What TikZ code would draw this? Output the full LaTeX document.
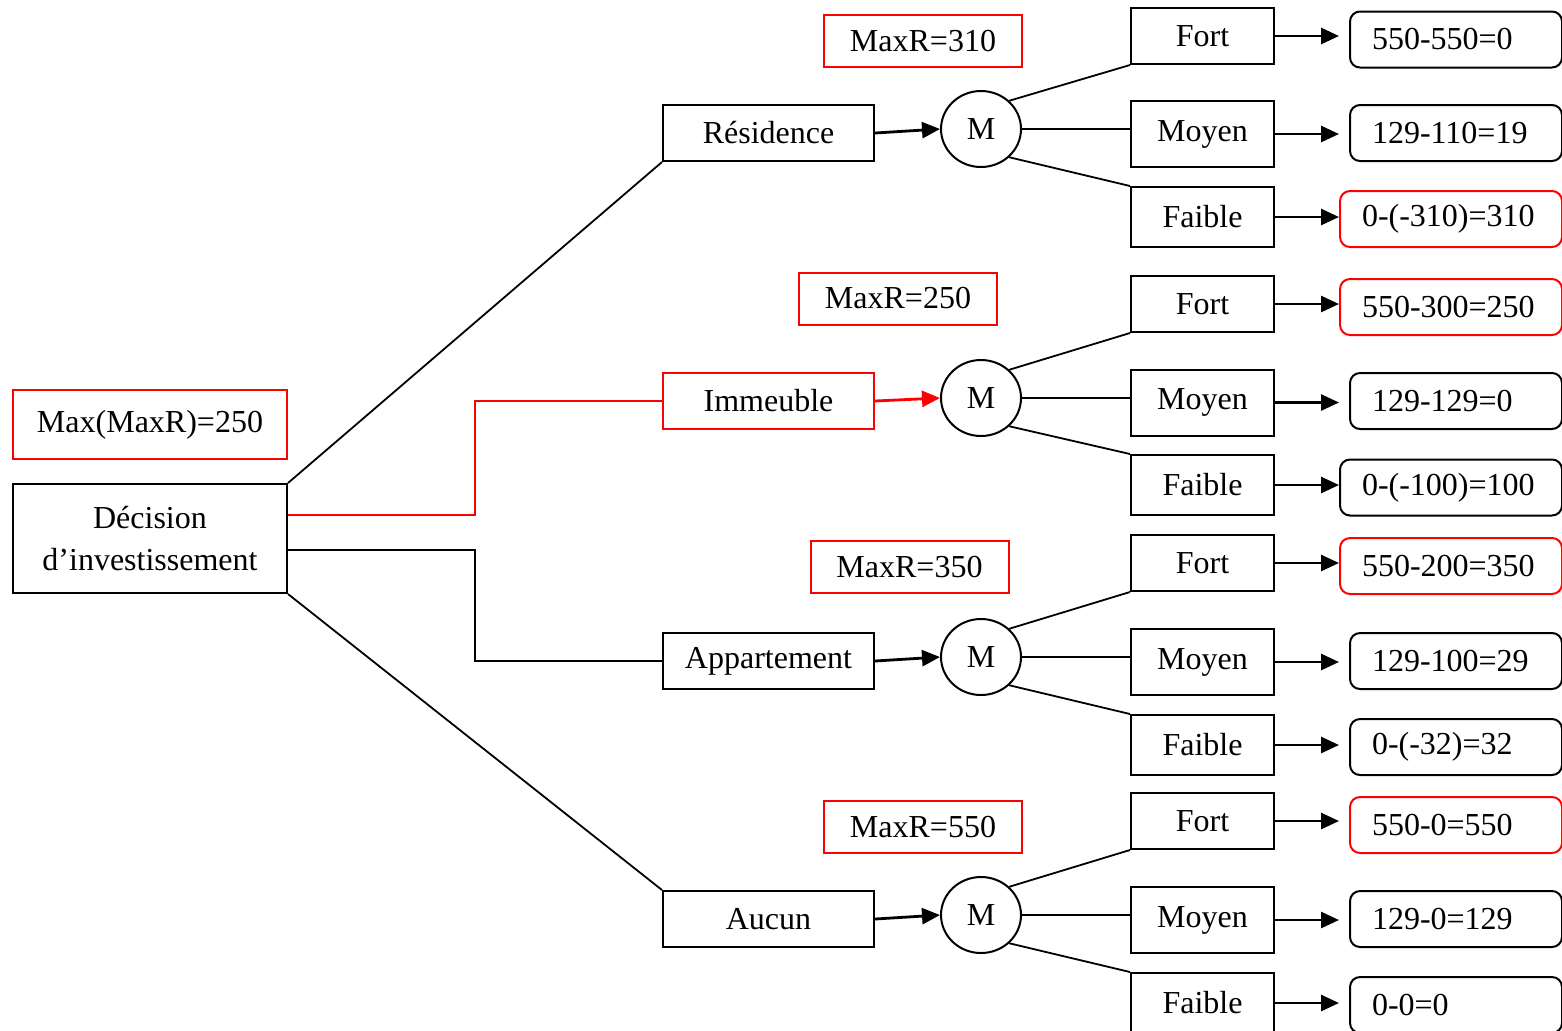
\documentclass[tikz,border=0pt]{standalone}
\usepackage{fontspec}
\setmainfont{Liberation Serif}
\usetikzlibrary{shapes.geometric,arrows.meta}

\tikzset{
    box/.style={draw, line width=1pt, inner sep=0pt, minimum width=71.5pt},
    scelta/.style={draw, line width=1pt, inner sep=0pt, minimum width=105.5pt, minimum height=28pt},
    maxr/.style={draw=red, line width=1pt, inner sep=0pt, minimum width=99pt, minimum height=26pt},
    nodo/.style={draw, ellipse, line width=1pt, inner sep=0pt, minimum width=40pt, minimum height=38pt},
    ris/.style={draw=#1, rounded corners=5pt, line width=1pt, anchor=west, minimum height=28pt, inner xsep=11pt, align=left},
    arr/.style={-{Triangle[length=9pt,width=8pt]}, line width=1.4pt},
    ramo/.style={line width=0.9pt}
}

\begin{document}
\begin{tikzpicture}[x=0.5pt, y=-0.5pt, font=\fontsize{16}{21}\selectfont]
    \clip (0,0) rectangle (1562,1030);

    % Radice della decisione
    \node[draw, line width=1pt, inner sep=0pt, minimum width=137pt, minimum height=54.5pt, align=center] (dec) at (150,538.5) {Décision\\d’investissement};
    \node[maxr, minimum width=137pt, minimum height=34.5pt] (maxmax) at (150,424.5) {Max(MaxR)=250};
    \coordinate (split) at (475,0);

    % Le quattro scelte
    \node[scelta] (resid) at (768.5,133) {Résidence};
    \node[scelta, draw=red] (immeu) at (768.5,401) {Immeuble};
    \node[scelta] (appar) at (768.5,661) {Appartement};
    \node[scelta] (aucun) at (768.5,919) {Aucun};

    % Rami dalla radice
    \draw[ramo] (dec.north east) -- (resid.south west);
    \draw[ramo, red] ([yshift=11.75pt]dec.east) -- ([yshift=11.75pt]dec.east -| split) |- (immeu.west);
    \draw[ramo] ([yshift=-5.75pt]dec.east) -- ([yshift=-5.75pt]dec.east -| split) |- (appar.west);
    \draw[ramo] (dec.south east) -- (aucun.north west);

    % Nodi M
    \node[nodo] (m1) at (981,129) {M};
    \node[nodo] (m2) at (981,398) {M};
    \node[nodo] (m3) at (981,657) {M};
    \node[nodo] (m4) at (981,915) {M};

    \draw[arr] (resid.east) -- (m1.west);
    \draw[arr, red] (immeu.east) -- (m2.west);
    \draw[arr] (appar.east) -- (m3.west);
    \draw[arr] (aucun.east) -- (m4.west);

    % Riquadri MaxR
    \node[maxr] (mr1) at (923,41) {MaxR=310};
    \node[maxr] (mr2) at (898,298.5) {MaxR=250};
    \node[maxr] (mr3) at (909.5,567) {MaxR=350};
    \node[maxr] (mr4) at (923,827) {MaxR=550};

    % Gruppo 1: Résidence
    \node[box, minimum height=28pt] (f1) at (1202.5,36) {Fort};
    \node[box, minimum height=33pt] (o1) at (1202.5,134) {Moyen};
    \node[box, minimum height=30pt] (w1) at (1202.5,217) {Faible};
    \draw[ramo] (m1.45) -- (f1.south west);
    \draw[ramo] (m1.east) -- (m1.east -| o1.west);
    \draw[ramo] (m1.-45) -- (w1.north west);
    \node[ris=black, text width=84pt] (rf1) at (1349,39.5) {550-550=0};
    \node[ris=black, text width=84pt] (ro1) at (1349,133) {129-110=19};
    \node[ris=red, text width=89pt] (rw1) at (1339,219) {0-(-310)=310};
    \draw[arr, shorten >=5pt] (f1.east) -- (f1.east -| rf1.west);
    \draw[arr, shorten >=5pt] (o1.east) -- (o1.east -| ro1.west);
    \draw[arr] (w1.east) -- (w1.east -| rw1.west);

    % Gruppo 2: Immeuble
    \node[box, minimum height=28pt] (f2) at (1202.5,304) {Fort};
    \node[box, minimum height=33pt] (o2) at (1202.5,402.5) {Moyen};
    \node[box, minimum height=30pt] (w2) at (1202.5,485) {Faible};
    \draw[ramo] (m2.45) -- (f2.south west);
    \draw[ramo] (m2.east) -- (m2.east -| o2.west);
    \draw[ramo] (m2.-45) -- (w2.north west);
    \node[ris=red, text width=89pt] (rf2) at (1339,307) {550-300=250};
    \node[ris=black, text width=84pt] (ro2) at (1349,401) {129-129=0};
    \node[ris=black, text width=89pt] (rw2) at (1339,487.5) {0-(-100)=100};
    \draw[arr] (f2.east) -- (f2.east -| rf2.west);
    \draw[arr, shorten >=5pt] (o2.east) -- (o2.east -| ro2.west);
    \draw[arr] (w2.east) -- (w2.east -| rw2.west);

    % Gruppo 3: Appartement
    \node[box, minimum height=28pt] (f3) at (1202.5,563) {Fort};
    \node[box, minimum height=33pt] (o3) at (1202.5,662) {Moyen};
    \node[box, minimum height=30pt] (w3) at (1202.5,745) {Faible};
    \draw[ramo] (m3.45) -- (f3.south west);
    \draw[ramo] (m3.east) -- (m3.east -| o3.west);
    \draw[ramo] (m3.-45) -- (w3.north west);
    \node[ris=red, text width=89pt] (rf3) at (1339,566) {550-200=350};
    \node[ris=black, text width=84pt] (ro3) at (1349,661) {129-100=29};
    \node[ris=black, text width=84pt] (rw3) at (1349,747) {0-(-32)=32};
    \draw[arr] (f3.east) -- (f3.east -| rf3.west);
    \draw[arr, shorten >=5pt] (o3.east) -- (o3.east -| ro3.west);
    \draw[arr, shorten >=5pt] (w3.east) -- (w3.east -| rw3.west);

    % Gruppo 4: Aucun
    \node[box, minimum height=28pt] (f4) at (1202.5,821) {Fort};
    \node[box, minimum height=33pt] (o4) at (1202.5,920) {Moyen};
    \node[box, minimum height=30pt] (w4) at (1202.5,1003) {Faible};
    \draw[ramo] (m4.45) -- (f4.south west);
    \draw[ramo] (m4.east) -- (m4.east -| o4.west);
    \draw[ramo] (m4.-45) -- (w4.north west);
    \node[ris=red, text width=84pt] (rf4) at (1349,825) {550-0=550};
    \node[ris=black, text width=84pt] (ro4) at (1349,919) {129-0=129};
    \node[ris=black, text width=84pt] (rw4) at (1349,1005) {0-0=0};
    \draw[arr, shorten >=5pt] (f4.east) -- (f4.east -| rf4.west);
    \draw[arr, shorten >=5pt] (o4.east) -- (o4.east -| ro4.west);
    \draw[arr, shorten >=5pt] (w4.east) -- (w4.east -| rw4.west);

\end{tikzpicture}
\end{document}
